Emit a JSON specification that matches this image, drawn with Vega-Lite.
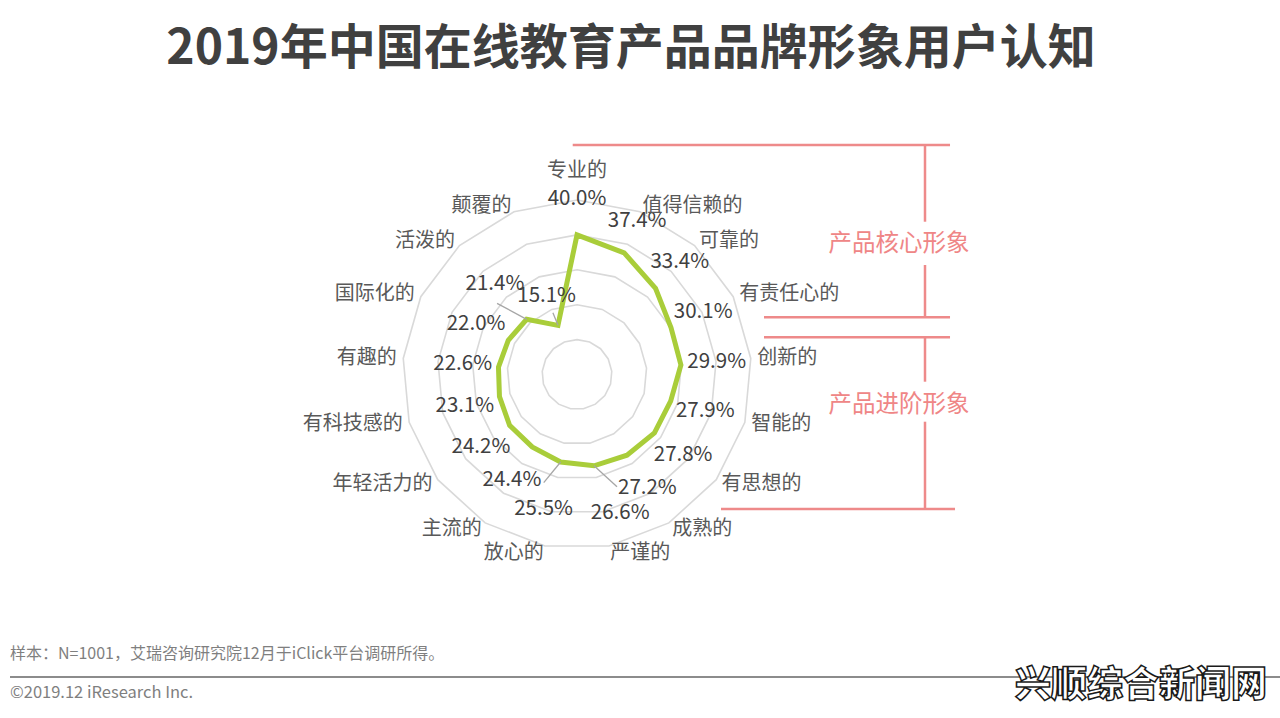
{
  "$schema": "https://vega.github.io/schema/vega-lite/v6.json",
  "width": 1280,
  "height": 628,
  "autosize": "none",
  "padding": {"top": 90, "left": 0, "right": 0, "bottom": 0},
  "background": "white",
  "title": {
    "text": "2019年中国在线教育产品品牌形象用户认知",
    "fontSize": 48,
    "fontWeight": "bold",
    "color": "#404040",
    "font": "Noto Sans CJK SC",
    "anchor": "middle",
    "frame": "group",
    "offset": 16,
    "dx": -9
  },
  "config": {"font": "Noto Sans CJK SC", "view": {"stroke": null}},
  "layer": [
    {
      "data": {
        "values": [
          {"name": "专业的", "value": 40.0},
          {"name": "值得信赖的", "value": 37.4},
          {"name": "可靠的", "value": 33.4},
          {"name": "有责任心的", "value": 30.1},
          {"name": "创新的", "value": 29.9},
          {"name": "智能的", "value": 27.9},
          {"name": "有思想的", "value": 27.8},
          {"name": "成熟的", "value": 27.2},
          {"name": "严谨的", "value": 26.6},
          {"name": "放心的", "value": 25.5},
          {"name": "主流的", "value": 24.4},
          {"name": "年轻活力的", "value": 24.2},
          {"name": "有科技感的", "value": 23.1},
          {"name": "有趣的", "value": 22.6},
          {"name": "国际化的", "value": 22.0},
          {"name": "活泼的", "value": 21.4},
          {"name": "颠覆的", "value": 15.1}
        ]
      },
      "transform": [
        {"window": [
          {"op": "row_number", "as": "rn"},
          {"op": "lead", "field": "value", "as": "nv"},
          {"op": "lag", "field": "value", "as": "pv"}
        ]},
        {"calculate": "(datum.rn - 1) * 2 * PI / 17", "as": "ang"},
        {"calculate": "datum.value + (datum.name == '活泼的' ? 13.5 : datum.name == '颠覆的' ? 9 : datum.name == '成熟的' ? 11.1 : datum.name == '主流的' ? 11.0 : 10.3)", "as": "lr"},
        {"calculate": "datum.lr * sin(datum.ang) + (datum.name == '严谨的' ? 5.6 : datum.name == '放心的' ? -3.0 : 0)", "as": "LX"},
        {"calculate": "datum.lr * cos(datum.ang) + (datum.name == '严谨的' || datum.name == '放心的' ? -3.3 : datum.name == '值得信赖的' ? -0.6 : 0)", "as": "LY"}
      ],
      "layer": [
        {
          "transform": [
            {"calculate": "[10, 20, 30, 40, 50]", "as": "lv"},
            {"flatten": ["lv"]},
            {"calculate": "datum.lv * sin(datum.ang)", "as": "X"},
            {"calculate": "datum.lv * cos(datum.ang)", "as": "Y"}
          ],
          "mark": {"type": "line", "interpolate": "linear-closed", "stroke": "#d9d9d9", "strokeWidth": 1.6},
          "encoding": {
            "x": {"field": "X", "type": "quantitative", "axis": null, "scale": {"domain": [-165.33, 201.43], "nice": false, "zero": false}},
            "y": {"field": "Y", "type": "quantitative", "axis": null, "scale": {"domain": [-98.42, 81.52], "nice": false, "zero": false}},
            "detail": {"field": "lv", "type": "nominal"},
            "order": {"field": "rn", "type": "quantitative"}
          }
        },
        {
          "transform": [
            {"calculate": "datum.value * sin(datum.ang)", "as": "X"},
            {"calculate": "datum.value * cos(datum.ang)", "as": "Y"}
          ],
          "mark": {"type": "line", "interpolate": "linear-closed", "stroke": "#a9cd3a", "strokeWidth": 5, "strokeJoin": "miter"},
          "encoding": {
            "x": {"field": "X", "type": "quantitative", "axis": null, "scale": {"domain": [-165.33, 201.43], "nice": false, "zero": false}},
            "y": {"field": "Y", "type": "quantitative", "axis": null, "scale": {"domain": [-98.42, 81.52], "nice": false, "zero": false}},
            "order": {"field": "rn", "type": "quantitative"}
          }
        },
        {
          "transform": [
            {"filter": "indexof(['成熟的', '主流的', '活泼的', '颠覆的'], datum.name) >= 0"},
            {"calculate": "datum.name == '成熟的' ? datum.nv : datum.name == '主流的' ? datum.pv : datum.value", "as": "sv"},
            {"calculate": "datum.ang + (datum.name == '成熟的' ? 2 * PI / 17 : datum.name == '主流的' ? -2 * PI / 17 : 0)", "as": "sa"},
            {"calculate": "datum.sv * sin(datum.sa)", "as": "X"},
            {"calculate": "datum.sv * cos(datum.sa)", "as": "Y"},
            {"calculate": "datum.LX + (datum.name == '活泼的' ? 0.6 : datum.name == '颠覆的' ? 1.8 : datum.name == '成熟的' ? -8.7 : 9.1)", "as": "X2"},
            {"calculate": "datum.LY + (datum.name == '活泼的' ? -5.4 : datum.name == '颠覆的' ? -4.8 : datum.name == '成熟的' ? 0.4 : -0.9)", "as": "Y2"}
          ],
          "mark": {"type": "rule", "stroke": "#a6a6a6", "strokeWidth": 1.3},
          "encoding": {
            "x": {"field": "X", "type": "quantitative", "axis": null, "scale": {"domain": [-165.33, 201.43], "nice": false, "zero": false}},
            "y": {"field": "Y", "type": "quantitative", "axis": null, "scale": {"domain": [-98.42, 81.52], "nice": false, "zero": false}},
            "x2": {"field": "X2"},
            "y2": {"field": "Y2"}
          }
        },
        {
          "transform": [
            {"calculate": "format(datum.value, '.1f') + '%'", "as": "lab"}
          ],
          "mark": {"type": "text", "fontSize": 20.5, "fill": "#404040", "align": "center", "baseline": "middle"},
          "encoding": {
            "x": {"field": "LX", "type": "quantitative", "axis": null, "scale": {"domain": [-165.33, 201.43], "nice": false, "zero": false}},
            "y": {"field": "LY", "type": "quantitative", "axis": null, "scale": {"domain": [-98.42, 81.52], "nice": false, "zero": false}},
            "text": {"field": "lab"}
          }
        },
        {
          "transform": [
            {"filter": "datum.rn == 1"},
            {"calculate": "58.2 * sin(datum.ang)", "as": "X"},
            {"calculate": "58.2 * cos(datum.ang)", "as": "Y"}
          ],
          "mark": {"type": "text", "fontSize": 20, "fill": "#595959", "align": "center", "baseline": "middle"},
          "encoding": {
            "x": {"field": "X", "type": "quantitative", "axis": null, "scale": {"domain": [-165.33, 201.43], "nice": false, "zero": false}},
            "y": {"field": "Y", "type": "quantitative", "axis": null, "scale": {"domain": [-98.42, 81.52], "nice": false, "zero": false}},
            "text": {"field": "name"}
          }
        },
        {
          "transform": [
            {"filter": "datum.rn >= 2 && datum.rn <= 9"},
            {"calculate": "51.9 * sin(datum.ang)", "as": "X"},
            {"calculate": "51.9 * cos(datum.ang)", "as": "Y"}
          ],
          "mark": {"type": "text", "fontSize": 20, "fill": "#595959", "align": "left", "baseline": "middle"},
          "encoding": {
            "x": {"field": "X", "type": "quantitative", "axis": null, "scale": {"domain": [-165.33, 201.43], "nice": false, "zero": false}},
            "y": {"field": "Y", "type": "quantitative", "axis": null, "scale": {"domain": [-98.42, 81.52], "nice": false, "zero": false}},
            "text": {"field": "name"}
          }
        },
        {
          "transform": [
            {"filter": "datum.rn >= 10"},
            {"calculate": "51.9 * sin(datum.ang)", "as": "X"},
            {"calculate": "51.9 * cos(datum.ang)", "as": "Y"}
          ],
          "mark": {"type": "text", "fontSize": 20, "fill": "#595959", "align": "right", "baseline": "middle"},
          "encoding": {
            "x": {"field": "X", "type": "quantitative", "axis": null, "scale": {"domain": [-165.33, 201.43], "nice": false, "zero": false}},
            "y": {"field": "Y", "type": "quantitative", "axis": null, "scale": {"domain": [-98.42, 81.52], "nice": false, "zero": false}},
            "text": {"field": "name"}
          }
        }
      ]
    },
    {
      "data": {"values": [{}]},
      "mark": {"type": "rule", "stroke": "#ee8a8a", "strokeWidth": 2.5},
      "encoding": {"x": {"datum": -1.23, "type": "quantitative"}, "x2": {"datum": 106.88}, "y": {"datum": 65.76, "type": "quantitative"}}
    },
    {
      "data": {"values": [{}]},
      "mark": {"type": "rule", "stroke": "#ee8a8a", "strokeWidth": 2.5},
      "encoding": {"x": {"datum": 99.71, "type": "quantitative"}, "y": {"datum": 65.76, "type": "quantitative"}, "y2": {"datum": 43.78}}
    },
    {
      "data": {"values": [{}]},
      "mark": {"type": "rule", "stroke": "#ee8a8a", "strokeWidth": 2.5},
      "encoding": {"x": {"datum": 99.71, "type": "quantitative"}, "y": {"datum": 31.38, "type": "quantitative"}, "y2": {"datum": 16.39}}
    },
    {
      "data": {"values": [{}]},
      "mark": {"type": "rule", "stroke": "#ee8a8a", "strokeWidth": 2.5},
      "encoding": {"x": {"datum": 53.58, "type": "quantitative"}, "x2": {"datum": 106.88}, "y": {"datum": 16.39, "type": "quantitative"}}
    },
    {
      "data": {"values": [{}]},
      "mark": {"type": "rule", "stroke": "#ee8a8a", "strokeWidth": 2.5},
      "encoding": {"x": {"datum": 53.58, "type": "quantitative"}, "x2": {"datum": 106.88}, "y": {"datum": 10.66, "type": "quantitative"}}
    },
    {
      "data": {"values": [{}]},
      "mark": {"type": "rule", "stroke": "#ee8a8a", "strokeWidth": 2.5},
      "encoding": {"x": {"datum": 99.71, "type": "quantitative"}, "y": {"datum": 10.66, "type": "quantitative"}, "y2": {"datum": -2.06}}
    },
    {
      "data": {"values": [{}]},
      "mark": {"type": "rule", "stroke": "#ee8a8a", "strokeWidth": 2.5},
      "encoding": {"x": {"datum": 99.71, "type": "quantitative"}, "y": {"datum": -13.52, "type": "quantitative"}, "y2": {"datum": -38.54}}
    },
    {
      "data": {"values": [{}]},
      "mark": {"type": "rule", "stroke": "#ee8a8a", "strokeWidth": 2.5},
      "encoding": {"x": {"datum": 41.26, "type": "quantitative"}, "x2": {"datum": 108.31}, "y": {"datum": -38.54, "type": "quantitative"}}
    },
    {
      "data": {"values": [{}]},
      "mark": {"type": "text", "text": "产品核心形象", "fontSize": 23.5, "fill": "#ef8686", "align": "center", "baseline": "middle"},
      "encoding": {"x": {"datum": 92.26, "type": "quantitative"}, "y": {"datum": 37.31, "type": "quantitative"}}
    },
    {
      "data": {"values": [{}]},
      "mark": {"type": "text", "text": "产品进阶形象", "fontSize": 23.5, "fill": "#ef8686", "align": "center", "baseline": "middle"},
      "encoding": {"x": {"datum": 92.26, "type": "quantitative"}, "y": {"datum": -8.74, "type": "quantitative"}}
    },
    {
      "data": {"values": [{}]},
      "mark": {"type": "text", "text": "样本：N=1001，艾瑞咨询研究院12月于iClick平台调研所得。", "fontSize": 16, "fill": "#7f7f7f", "align": "left", "baseline": "middle"},
      "encoding": {"x": {"datum": -162.46, "type": "quantitative"}, "y": {"datum": -80.09, "type": "quantitative"}}
    },
    {
      "data": {"values": [{}]},
      "mark": {"type": "rule", "stroke": "#8c8c8c", "strokeWidth": 2},
      "encoding": {"x": {"datum": -162.46, "type": "quantitative"}, "x2": {"datum": 201.43}, "y": {"datum": -86.68, "type": "quantitative"}}
    },
    {
      "data": {"values": [{}]},
      "mark": {"type": "text", "text": "©2019.12 iResearch Inc.", "fontSize": 16.5, "fill": "#7f7f7f", "align": "left", "baseline": "middle"},
      "encoding": {"x": {"datum": -162.46, "type": "quantitative"}, "y": {"datum": -91.26, "type": "quantitative"}}
    },
    {
      "data": {"values": [{}]},
      "mark": {"type": "text", "text": "兴顺综合新闻网", "fontSize": 36, "fontWeight": 900, "fill": "white", "stroke": "#1a1a1a", "strokeWidth": 1.5, "align": "center", "baseline": "middle"},
      "encoding": {"x": {"datum": 161.6, "type": "quantitative"}, "y": {"datum": -89.26, "type": "quantitative"}}
    }
  ]
}
